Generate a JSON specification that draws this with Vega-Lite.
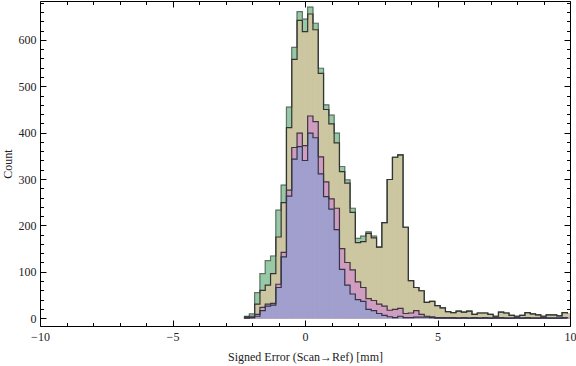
{
  "$schema": "https://vega.github.io/schema/vega-lite/v6.json",
  "width": 530,
  "height": 325,
  "autosize": {"type": "none"},
  "padding": {"left": 40, "top": 1, "right": 6, "bottom": 40},
  "background": "white",
  "config": {
    "view": {"stroke": null},
    "axis": {
      "grid": false,
      "domainColor": "black",
      "domainWidth": 1,
      "tickColor": "black",
      "tickWidth": 1,
      "labelFont": "Liberation Serif",
      "labelFontSize": 12,
      "labelColor": "#222222",
      "titleFont": "Liberation Serif",
      "titleFontSize": 12,
      "titleFontWeight": "normal",
      "titleColor": "#222222",
      "labelOverlap": false,
      "labelFlush": false
    }
  },
  "data": {
    "values": [
      {"x0": -2.3, "x1": -2.1, "green": 4, "khaki": 3, "pink": 1, "purple": 0},
      {"x0": -2.1, "x1": -1.9, "green": 9, "khaki": 4, "pink": 1, "purple": 1},
      {"x0": -1.9, "x1": -1.7, "green": 55, "khaki": 30, "pink": 8, "purple": 4},
      {"x0": -1.7, "x1": -1.5, "green": 96, "khaki": 60, "pink": 23, "purple": 16},
      {"x0": -1.5, "x1": -1.3, "green": 124, "khaki": 71, "pink": 30, "purple": 26},
      {"x0": -1.3, "x1": -1.1, "green": 134, "khaki": 96, "pink": 32, "purple": 28},
      {"x0": -1.1, "x1": -0.9, "green": 233, "khaki": 175, "pink": 73, "purple": 66},
      {"x0": -0.9, "x1": -0.7, "green": 287, "khaki": 249, "pink": 142, "purple": 132},
      {"x0": -0.7, "x1": -0.5, "green": 455, "khaki": 411, "pink": 276, "purple": 263},
      {"x0": -0.5, "x1": -0.3, "green": 584, "khaki": 558, "pink": 368, "purple": 343},
      {"x0": -0.3, "x1": -0.1, "green": 661, "khaki": 642, "pink": 399, "purple": 370},
      {"x0": -0.1, "x1": 0.1, "green": 645, "khaki": 618, "pink": 372, "purple": 340},
      {"x0": 0.1, "x1": 0.3, "green": 671, "khaki": 656, "pink": 436, "purple": 399},
      {"x0": 0.3, "x1": 0.5, "green": 636, "khaki": 622, "pink": 424, "purple": 389},
      {"x0": 0.5, "x1": 0.7, "green": 539, "khaki": 528, "pink": 348, "purple": 311},
      {"x0": 0.7, "x1": 0.9, "green": 460, "khaki": 450, "pink": 294, "purple": 262},
      {"x0": 0.9, "x1": 1.1, "green": 438, "khaki": 419, "pink": 257, "purple": 235},
      {"x0": 1.1, "x1": 1.3, "green": 399, "khaki": 378, "pink": 237, "purple": 191},
      {"x0": 1.3, "x1": 1.5, "green": 327, "khaki": 316, "pink": 150, "purple": 105},
      {"x0": 1.5, "x1": 1.7, "green": 298, "khaki": 291, "pink": 120, "purple": 71},
      {"x0": 1.7, "x1": 1.9, "green": 237, "khaki": 228, "pink": 104, "purple": 52},
      {"x0": 1.9, "x1": 2.1, "green": 172, "khaki": 163, "pink": 78, "purple": 40},
      {"x0": 2.1, "x1": 2.3, "green": 177, "khaki": 165, "pink": 66, "purple": 36},
      {"x0": 2.3, "x1": 2.5, "green": 186, "khaki": 183, "pink": 42, "purple": 19},
      {"x0": 2.5, "x1": 2.7, "green": 177, "khaki": 173, "pink": 38, "purple": 16},
      {"x0": 2.7, "x1": 2.9, "green": 153, "khaki": 153, "pink": 30, "purple": 10},
      {"x0": 2.9, "x1": 3.1, "green": 206, "khaki": 206, "pink": 26, "purple": 6},
      {"x0": 3.1, "x1": 3.3, "green": 299, "khaki": 299, "pink": 17, "purple": 3},
      {"x0": 3.3, "x1": 3.5, "green": 347, "khaki": 347, "pink": 19, "purple": 1},
      {"x0": 3.5, "x1": 3.7, "green": 352, "khaki": 352, "pink": 21, "purple": 4},
      {"x0": 3.7, "x1": 3.9, "green": 196, "khaki": 196, "pink": 10, "purple": 1},
      {"x0": 3.9, "x1": 4.1, "green": 81, "khaki": 81, "pink": 11, "purple": 1},
      {"x0": 4.1, "x1": 4.3, "green": 66, "khaki": 66, "pink": 16, "purple": 2},
      {"x0": 4.3, "x1": 4.5, "green": 59, "khaki": 59, "pink": 8, "purple": 2},
      {"x0": 4.5, "x1": 4.7, "green": 34, "khaki": 34, "pink": 4, "purple": 2},
      {"x0": 4.7, "x1": 4.9, "green": 36, "khaki": 36, "pink": 3, "purple": 1},
      {"x0": 4.9, "x1": 5.1, "green": 27, "khaki": 27, "pink": 1, "purple": 0},
      {"x0": 5.1, "x1": 5.3, "green": 22, "khaki": 22, "pink": 1, "purple": 0},
      {"x0": 5.3, "x1": 5.5, "green": 14, "khaki": 14, "pink": 1, "purple": 0},
      {"x0": 5.5, "x1": 5.7, "green": 12, "khaki": 12, "pink": 1, "purple": 0},
      {"x0": 5.7, "x1": 5.9, "green": 15, "khaki": 15, "pink": 0, "purple": 0},
      {"x0": 5.9, "x1": 6.1, "green": 13, "khaki": 13, "pink": 1, "purple": 0},
      {"x0": 6.1, "x1": 6.3, "green": 15, "khaki": 15, "pink": 0, "purple": 0},
      {"x0": 6.3, "x1": 6.5, "green": 8, "khaki": 8, "pink": 1, "purple": 0},
      {"x0": 6.5, "x1": 6.7, "green": 11, "khaki": 11, "pink": 0, "purple": 0},
      {"x0": 6.7, "x1": 6.9, "green": 11, "khaki": 11, "pink": 1, "purple": 0},
      {"x0": 6.9, "x1": 7.1, "green": 8, "khaki": 8, "pink": 0, "purple": 0},
      {"x0": 7.1, "x1": 7.3, "green": 4, "khaki": 4, "pink": 1, "purple": 0},
      {"x0": 7.3, "x1": 7.5, "green": 13, "khaki": 13, "pink": 1, "purple": 0},
      {"x0": 7.5, "x1": 7.7, "green": 11, "khaki": 11, "pink": 0, "purple": 0},
      {"x0": 7.7, "x1": 7.9, "green": 6, "khaki": 6, "pink": 0, "purple": 0},
      {"x0": 7.9, "x1": 8.1, "green": 4, "khaki": 4, "pink": 1, "purple": 0},
      {"x0": 8.1, "x1": 8.3, "green": 6, "khaki": 6, "pink": 0, "purple": 0},
      {"x0": 8.3, "x1": 8.5, "green": 12, "khaki": 12, "pink": 1, "purple": 0},
      {"x0": 8.5, "x1": 8.7, "green": 9, "khaki": 9, "pink": 0, "purple": 0},
      {"x0": 8.7, "x1": 8.9, "green": 7, "khaki": 7, "pink": 0, "purple": 0},
      {"x0": 8.9, "x1": 9.1, "green": 4, "khaki": 4, "pink": 1, "purple": 0},
      {"x0": 9.1, "x1": 9.3, "green": 7, "khaki": 7, "pink": 0, "purple": 0},
      {"x0": 9.3, "x1": 9.5, "green": 7, "khaki": 7, "pink": 0, "purple": 0},
      {"x0": 9.5, "x1": 9.7, "green": 5, "khaki": 5, "pink": 0, "purple": 0},
      {"x0": 9.7, "x1": 9.9, "green": 12, "khaki": 12, "pink": 1, "purple": 0},
      {"x0": 9.9, "x1": 10.1, "green": 10, "khaki": 10, "pink": 0, "purple": 0}
    ]
  },
  "transform": [
    {"fold": ["green", "khaki", "pink", "purple"], "as": ["series", "count"]}
  ],
  "layer": [
    {
      "mark": {"type": "bar", "clip": true, "strokeWidth": 0.8},
      "encoding": {
        "x": {
          "field": "x0", "type": "quantitative",
          "scale": {"domain": [-10, 10], "nice": false, "zero": false},
          "axis": {
            "orient": "bottom",
            "values": [-10, -9, -8, -7, -6, -5, -4, -3, -2, -1, 0, 1, 2, 3, 4, 5, 6, 7, 8, 9, 10],
            "tickSize": {"condition": {"test": "datum.value % 5 === 0", "value": -6}, "value": -3.5},
            "labelExpr": "datum.value % 5 === 0 ? datum.label : ''",
            "labelPadding": 11,
            "title": "Signed Error (Scan→Ref) [mm]",
            "titlePadding": 7
          }
        },
        "x2": {"field": "x1"},
        "y": {
          "field": "count", "type": "quantitative", "stack": null,
          "scale": {"domain": [-17, 684], "nice": false, "zero": false},
          "axis": {
            "orient": "left",
            "values": [0, 20, 40, 60, 80, 100, 120, 140, 160, 180, 200, 220, 240, 260, 280, 300, 320, 340, 360, 380, 400, 420, 440, 460, 480, 500, 520, 540, 560, 580, 600, 620, 640, 660, 680],
            "tickSize": {"condition": {"test": "datum.value % 100 === 0", "value": -6}, "value": -3.5},
            "labelExpr": "datum.value % 100 === 0 ? datum.label : ''",
            "labelPadding": 10,
            "title": "Count",
            "titlePadding": 4
          }
        },
        "y2": {"datum": 0},
        "order": {"field": "series", "type": "nominal", "sort": "ascending"},
        "fill": {
          "field": "series", "type": "nominal",
          "scale": {"domain": ["green", "khaki", "pink", "purple"], "range": ["#98c9a6", "#ccc7a1", "#cf9dbf", "#a19fcd"]},
          "legend": null
        },
        "stroke": {
          "field": "series", "type": "nominal",
          "scale": {"domain": ["green", "khaki", "pink", "purple"], "range": ["#98c9a6", "#ccc7a1", "#cf9dbf", "#a19fcd"]},
          "legend": null
        }
      }
    },
    {
      "mark": {"type": "line", "interpolate": "step-after", "clip": true, "strokeWidth": 1.2},
      "encoding": {
        "x": {
          "field": "x0", "type": "quantitative",
          "axis": {
            "orient": "top",
            "values": [-10, -9, -8, -7, -6, -5, -4, -3, -2, -1, 0, 1, 2, 3, 4, 5, 6, 7, 8, 9, 10],
            "tickSize": {"condition": {"test": "datum.value % 5 === 0", "value": -6}, "value": -3.5},
            "labels": false,
            "title": null
          }
        },
        "y": {
          "field": "count", "type": "quantitative",
          "axis": {
            "orient": "right",
            "values": [0, 20, 40, 60, 80, 100, 120, 140, 160, 180, 200, 220, 240, 260, 280, 300, 320, 340, 360, 380, 400, 420, 440, 460, 480, 500, 520, 540, 560, 580, 600, 620, 640, 660, 680],
            "tickSize": {"condition": {"test": "datum.value % 100 === 0", "value": -6}, "value": -3.5},
            "labels": false,
            "title": null
          }
        },
        "detail": {"field": "series"},
        "stroke": {
          "field": "series", "type": "nominal",
          "scale": {"domain": ["green", "khaki", "pink", "purple"], "range": ["#5f7465", "#333333", "#403640", "#35354a"]},
          "legend": null
        }
      }
    }
  ],
  "resolve": {
    "axis": {"x": "independent", "y": "independent"},
    "scale": {"stroke": "independent"}
  }
}
